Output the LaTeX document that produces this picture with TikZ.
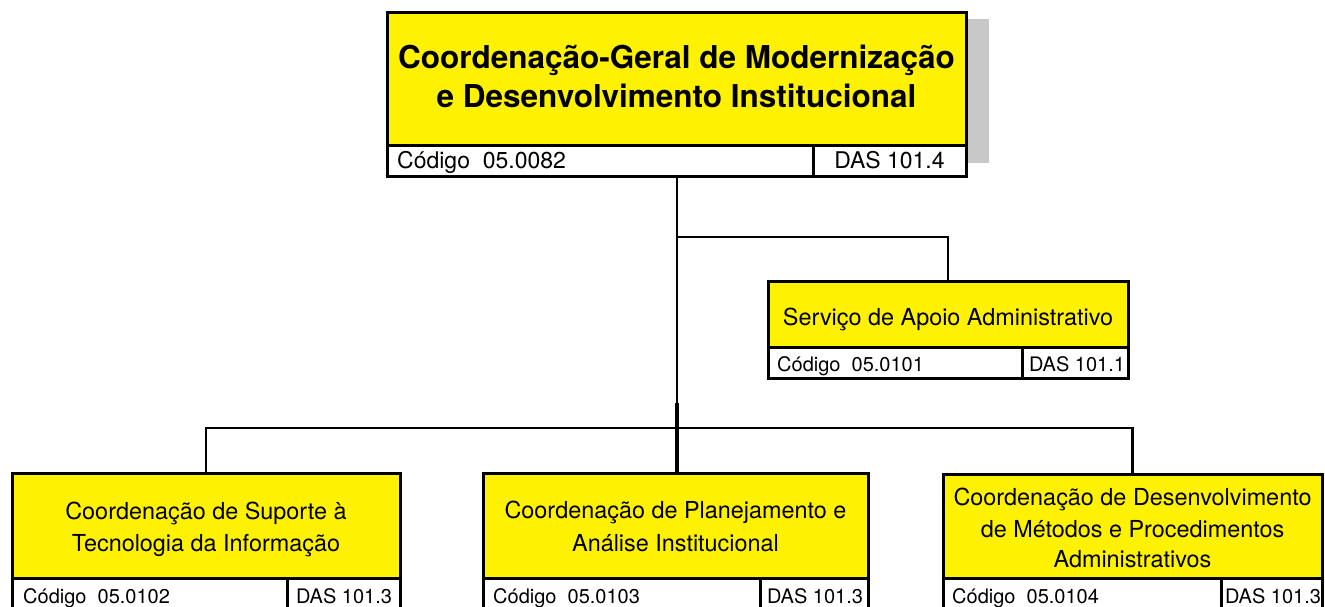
\documentclass[tikz,border=0pt]{standalone}
\usepackage{fontspec}
\setmainfont{TeX Gyre Heros}
\definecolor{boxyellow}{HTML}{FFF200}
\definecolor{shadowgray}{HTML}{C8C8C8}
\begin{document}
\begin{tikzpicture}[x=1pt,y=-1pt,
  ybox/.style={draw=black, fill=boxyellow, line width=3pt, inner sep=0pt, outer sep=0pt, anchor=north west},
  wbox/.style={draw=black, fill=white, line width=3pt, inner sep=0pt, outer sep=0pt, anchor=north west},
  bigtitle/.style={inner sep=0pt, anchor=base, font=\fontsize{31.5}{38}\selectfont\bfseries},
  subtitle/.style={inner sep=0pt, anchor=base, font=\fontsize{23.4}{28}\selectfont},
  topcode/.style={inner sep=0pt, font=\fontsize{23}{28}\selectfont},
  smallcode/.style={inner sep=0pt, font=\fontsize{20}{24}\selectfont},
  conn/.style={draw=black, line width=2.8pt, line join=miter}
]
\useasboundingbox (0,0) rectangle (1325,606);

% shadow of the top box
\fill[shadowgray] (966,19) rectangle (989,163);

% top box
\node[ybox, minimum width=579, minimum height=133] (cg) at (387,12) {};
\node[wbox, minimum width=426, minimum height=31] (cgcode) at (387,145) {};
\node[wbox, minimum width=153, minimum height=31] (cgdas) at (813,145) {};
\node[bigtitle] (cgt1) at (676.5,68) {Coordenação-Geral de Modernização};
\node[bigtitle] (cgt2) at (676.5,107) {e Desenvolvimento Institucional};
\node[topcode, anchor=base west] (cgc) at (397,168) {Código\ \ 05.0082};
\node[topcode, anchor=base] (cgd) at (889.5,168) {DAS 101.4};

% Serviço de Apoio Administrativo
\node[ybox, minimum width=360, minimum height=66] (sa) at (768,281) {};
\node[wbox, minimum width=254, minimum height=31] (sacode) at (768,347) {};
\node[wbox, minimum width=106, minimum height=31] (sadas) at (1022,347) {};
\node[subtitle] (sat) at (948,325) {Serviço de Apoio Administrativo};
\node[smallcode, anchor=base west] (sac) at (777,371) {Código\ \ 05.0101};
\node[smallcode, anchor=base] (sad) at (1077,371) {DAS 101.1};

% left box
\node[ybox, minimum width=388, minimum height=105] (la) at (12,473) {};
\node[wbox, minimum width=275, minimum height=35] (lacode) at (12,578) {};
\node[wbox, minimum width=113, minimum height=35] (ladas) at (287,578) {};
\node[subtitle] (lat1) at (206,519) {Coordenação de Suporte à};
\node[subtitle] (lat2) at (206,551) {Tecnologia da Informação};
\node[smallcode, anchor=base west] (lac) at (23,603) {Código\ \ 05.0102};
\node[smallcode, anchor=base] (lad) at (344,603) {DAS 101.3};

% center box
\node[ybox, minimum width=385, minimum height=105] (pb) at (483,473) {};
\node[wbox, minimum width=277, minimum height=35] (pbcode) at (483,578) {};
\node[wbox, minimum width=108, minimum height=35] (pbdas) at (760,578) {};
\node[subtitle] (pbt1) at (675.5,518) {Coordenação de Planejamento e};
\node[subtitle] (pbt2) at (675.5,551) {Análise Institucional};
\node[smallcode, anchor=base west] (pbc) at (493,603) {Código\ \ 05.0103};
\node[smallcode, anchor=base] (pbd) at (815,603) {DAS 101.3};

% right box
\node[ybox, minimum width=379, minimum height=104] (rc) at (943,474) {};
\node[wbox, minimum width=278, minimum height=35] (rccode) at (943,578) {};
\node[wbox, minimum width=101, minimum height=35] (rcdas) at (1221,578) {};
\node[subtitle] (rct1) at (1132.5,505) {Coordenação de Desenvolvimento};
\node[subtitle] (rct2) at (1132.5,537) {de Métodos e Procedimentos};
\node[subtitle] (rct3) at (1132.5,567) {Administrativos};
\node[smallcode, anchor=base west] (rcc) at (952,603) {Código\ \ 05.0104};
\node[smallcode, anchor=base] (rcd) at (1273,603) {DAS 101.3};

% connectors
\coordinate (spine) at (677,176);
\coordinate (j1) at (677,237);
\coordinate (j2) at (677,428);
\coordinate (thick) at (677,403);
\draw[conn] (cgcode.south -| spine) -- (pb.north -| spine);
\draw[conn, line width=3.6pt] (thick) -- (pb.north -| thick);
\draw[conn] (j1) -- (j1 -| sa.north) -- (sa.north);
\draw[conn] (la.north) -- (la.north |- j2) -- (rc.north |- j2) -- (rc.north);
\end{tikzpicture}
\end{document}
